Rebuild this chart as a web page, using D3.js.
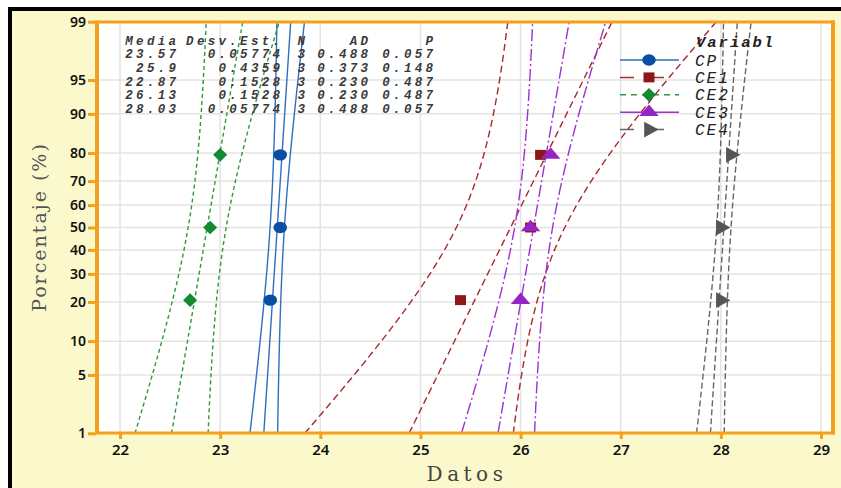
<!DOCTYPE html>
<html><head><meta charset="utf-8">
<script src="https://cdn.jsdelivr.net/npm/d3@7"></script>
<style>body{margin:0;background:#fff}svg{display:block}</style>
</head><body><svg id="c" width="841" height="488"></svg>
<script>
// ---- data ----
const seriesNames = ["CP", "CE1", "CE2", "CE3", "CE4"];
const cpValues  = [23.5, 23.6, 23.6];
const ce1Values = [25.4, 26.1, 26.2];
const ce2Values = [22.7, 22.9, 23.0];
const ce3Values = [26.0, 26.1, 26.3];
const ce4Values = [28.0, 28.0, 28.1];
const meanValues = [23.57, 25.9, 22.87, 26.13, 28.03];
const stdevValues = [0.05774, 0.4359, 0.1528, 0.1528, 0.05774];
const nValues = [3, 3, 3, 3, 3];
const adValues = ["0.488", "0.373", "0.230", "0.230", "0.488"];
const pValues = ["0.057", "0.148", "0.487", "0.487", "0.057"];
const meanLabels = ["23.57", "25.9", "22.87", "26.13", "28.03"];
const stdevLabels = ["0.05774", "0.4359", "0.1528", "0.1528", "0.05774"];
const percentTicks = [1, 5, 10, 20, 30, 40, 50, 60, 70, 80, 90, 95, 99];
const xTicks = [22, 23, 24, 25, 26, 27, 28, 29];
const allValues = [cpValues, ce1Values, ce2Values, ce3Values, ce4Values];
const ciFactor = 2.15;

// ---- styles ----
const lineColors = ["#2f6fbf", "#a8282e", "#2a9a3a", "#a030d0", "#666666"];
const markColors = ["#0b4ea6", "#8e1616", "#148a2e", "#9424c4", "#555555"];
const dashes = [null, "7,4", "4,3", "12,3,2,3", "6,3"];
const legendDashes = [null, "14,16", "6,5", "30,1", "14,16"];

function qnorm(p){
  const a=[-3.969683028665376e+01,2.209460984245205e+02,-2.759285104469687e+02,1.383577518672690e+02,-3.066479806614716e+01,2.506628277459239e+00];
  const b=[-5.447609879822406e+01,1.615858368580409e+02,-1.556989798598866e+02,6.680131188771972e+01,-1.328135085952327e+01];
  const c=[-7.784894002430293e-03,-3.223964580411365e-01,-2.400758277161838e+00,-2.549732539343734e+00,4.374664141464968e+00,2.938163982698783e+00];
  const d=[7.784695709041462e-03,3.224671290700398e-01,2.445134137142996e+00,3.754408661907416e+00];
  const pl=0.02425;
  let q,r;
  if(p<pl){q=Math.sqrt(-2*Math.log(p));return (((((c[0]*q+c[1])*q+c[2])*q+c[3])*q+c[4])*q+c[5])/((((d[0]*q+d[1])*q+d[2])*q+d[3])*q+1);}
  if(p>1-pl){q=Math.sqrt(-2*Math.log(1-p));return -(((((c[0]*q+c[1])*q+c[2])*q+c[3])*q+c[4])*q+c[5])/((((d[0]*q+d[1])*q+d[2])*q+d[3])*q+1);}
  q=p-0.5;r=q*q;
  return (((((a[0]*r+a[1])*r+a[2])*r+a[3])*r+a[4])*r+a[5])*q/(((((b[0]*r+b[1])*r+b[2])*r+b[3])*r+b[4])*r+1);
}

const svg = d3.select("#c");
const L = 97, R = 832, T = 22, B = 433;
const x = d3.scaleLinear().domain([21.77, 29.11]).range([L, R]);
const zLo = qnorm(0.01), zHi = qnorm(0.99);
const yz = d3.scaleLinear().domain([zLo, zHi]).range([433.3, 21.7]);
const y = p => yz(qnorm(p / 100));

// background
svg.append("rect").attr("x", 10).attr("y", 9).attr("width", 831).attr("height", 479).attr("fill", "#fbf9cb");
svg.append("rect").attr("x", 8).attr("y", 7).attr("width", 833).attr("height", 4).attr("fill", "#000");
svg.append("rect").attr("x", 8).attr("y", 7).attr("width", 4).attr("height", 481).attr("fill", "#000");
svg.append("rect").attr("x", L).attr("y", T).attr("width", R - L).attr("height", B - T).attr("fill", "#fff");

// grid
const grid = svg.append("g").attr("stroke", "#e3e3e3").attr("stroke-width", 1.5);
xTicks.forEach(v => grid.append("line").attr("x1", x(v)).attr("x2", x(v)).attr("y1", T).attr("y2", B));
percentTicks.forEach(p => grid.append("line").attr("x1", L).attr("x2", R).attr("y1", y(p)).attr("y2", y(p)));

// clip
svg.append("clipPath").attr("id", "clip").append("rect").attr("x", L).attr("y", T).attr("width", R - L).attr("height", B - T);
const lines = svg.append("g").attr("clip-path", "url(#clip)");

const zs = d3.range(0, 201).map(i => zLo + (zHi - zLo) * i / 200);
seriesNames.forEach((s, i) => {
  const m = meanValues[i], sd = stdevValues[i], n = nValues[i];
  [-1, 0, 1].forEach(sign => {
    const pts = zs.map(z => {
      const half = ciFactor * sd / Math.sqrt(n) * Math.sqrt(1 + z * z / 2);
      return [x(m + sd * z + sign * half), yz(z)];
    });
    lines.append("path").attr("d", d3.line()(pts)).attr("fill", "none")
      .attr("stroke", lineColors[i]).attr("stroke-width", 1.4)
      .attr("stroke-dasharray", dashes[i]);
  });
});

// frame
const orange = "#f5a01c";
svg.append("line").attr("x1", L).attr("x2", L).attr("y1", T - 1.5).attr("y2", B + 1.5).attr("stroke", orange).attr("stroke-width", 4);
svg.append("line").attr("x1", R + 1).attr("x2", R + 1).attr("y1", T - 1.5).attr("y2", B + 1.5).attr("stroke", orange).attr("stroke-width", 4);
svg.append("line").attr("x1", L).attr("x2", R + 3).attr("y1", T).attr("y2", T).attr("stroke", orange).attr("stroke-width", 3);
svg.append("line").attr("x1", L).attr("x2", R + 3).attr("y1", B).attr("y2", B).attr("stroke", orange).attr("stroke-width", 3);

// axes
const yAxis = d3.axisLeft(yz).tickValues(percentTicks.map(p => qnorm(p / 100)))
  .tickFormat((d, i) => percentTicks[i]).tickSize(8).tickPadding(2);
const gy = svg.append("g").attr("transform", `translate(${L - 1},0)`).call(yAxis);
const xAxis = d3.axisBottom(x).tickValues(xTicks).tickFormat(d3.format("d")).tickSize(5).tickPadding(5);
const gx = svg.append("g").attr("transform", `translate(0,${B + 1})`).call(xAxis);
[gx, gy].forEach(g => {
  g.select(".domain").remove();
  g.selectAll(".tick line").attr("stroke", orange).attr("stroke-width", 3);
  g.selectAll(".tick text").attr("fill", "#111").attr("font-family", "Noto Sans, sans-serif")
    .attr("font-weight", 600).attr("font-size", 15);
});
gy.selectAll(".tick text").attr("font-size", 14);

// markers
const symbols = [d3.symbolCircle, d3.symbolSquare, d3.symbolDiamond, d3.symbolTriangle, d3.symbolTriangle];
const sizes = [115, 110, 110, 150, 120];
const scaleX = [1.12, 1.05, 1.25, 1.05, 1.0];
const scaleY = [0.95, 0.95, 0.7, 0.72, 0.95];
function markTransform(i, px, py) {
  return i === 4
    ? `translate(${px},${py}) rotate(90) scale(${scaleY[i]},${scaleX[i]})`
    : `translate(${px},${py}) scale(${scaleX[i]},${scaleY[i]})`;
}
const mk = svg.append("g");
allValues.forEach((vals, i) => {
  const n = vals.length;
  vals.slice().sort(d3.ascending).forEach((v, j) => {
    const p = (j + 1 - 0.3) / (n + 0.4) * 100;
    mk.append("path").attr("d", d3.symbol(symbols[i], sizes[i])())
      .attr("transform", markTransform(i, x(v), y(p)))
      .attr("fill", markColors[i]);
  });
});

// stats table
const tf = "Liberation Mono, monospace";
const ls = 3.3;
const tbl = svg.append("g").attr("font-family", tf).attr("font-style", "italic").attr("font-weight", "bold")
  .attr("font-size", 12.5).attr("fill", "#3a3a3a").attr("letter-spacing", ls).attr("text-anchor", "end");
const colRight = [176, 280, 305, 368, 433];
const headers = ["Media", "Desv.Est.", "N", "AD", "P"];
headers.forEach((h, c) => tbl.append("text").attr("x", colRight[c] + ls).attr("y", 45).text(h));
seriesNames.forEach((s, r) => {
  const row = [meanLabels[r], stdevLabels[r], String(nValues[r]), adValues[r], pValues[r]];
  row.forEach((t, c) => tbl.append("text").attr("x", colRight[c] + ls).attr("y", 58 + r * 13.8).text(t));
});

// legend
const lg = svg.append("g");
lg.append("text").attr("x", 696).attr("y", 47).attr("font-family", tf).attr("font-style", "italic")
  .attr("font-weight", "bold").attr("font-size", 15.5).attr("letter-spacing", 2).attr("fill", "#222").text("Variabl");
seriesNames.forEach((s, i) => {
  const ly = 60 + i * 17.4;
  lg.append("line").attr("x1", 620).attr("x2", 679).attr("y1", ly).attr("y2", ly)
    .attr("stroke", lineColors[i]).attr("stroke-width", 1.5).attr("stroke-dasharray", legendDashes[i]);
  lg.append("path").attr("d", d3.symbol(symbols[i], sizes[i])())
    .attr("transform", markTransform(i, 649, ly))
    .attr("fill", markColors[i]);
  lg.append("text").attr("x", 695).attr("y", ly + 5.5).attr("font-family", tf).attr("font-style", "italic")
    .attr("font-size", 16).attr("letter-spacing", 2).attr("fill", "#222").text(s);
});

// axis titles
svg.append("text").attr("transform", "translate(46,227) rotate(-90)").attr("text-anchor", "middle")
  .attr("font-family", "DejaVu Serif, serif").attr("font-size", 19).attr("letter-spacing", 2).attr("fill", "#555").text("Porcentaje (%)");
svg.append("text").attr("x", 467).attr("y", 481).attr("text-anchor", "middle")
  .attr("font-family", "DejaVu Serif, serif").attr("font-size", 20).attr("letter-spacing", 4.5).attr("fill", "#444").text("Datos");
</script></body></html>
